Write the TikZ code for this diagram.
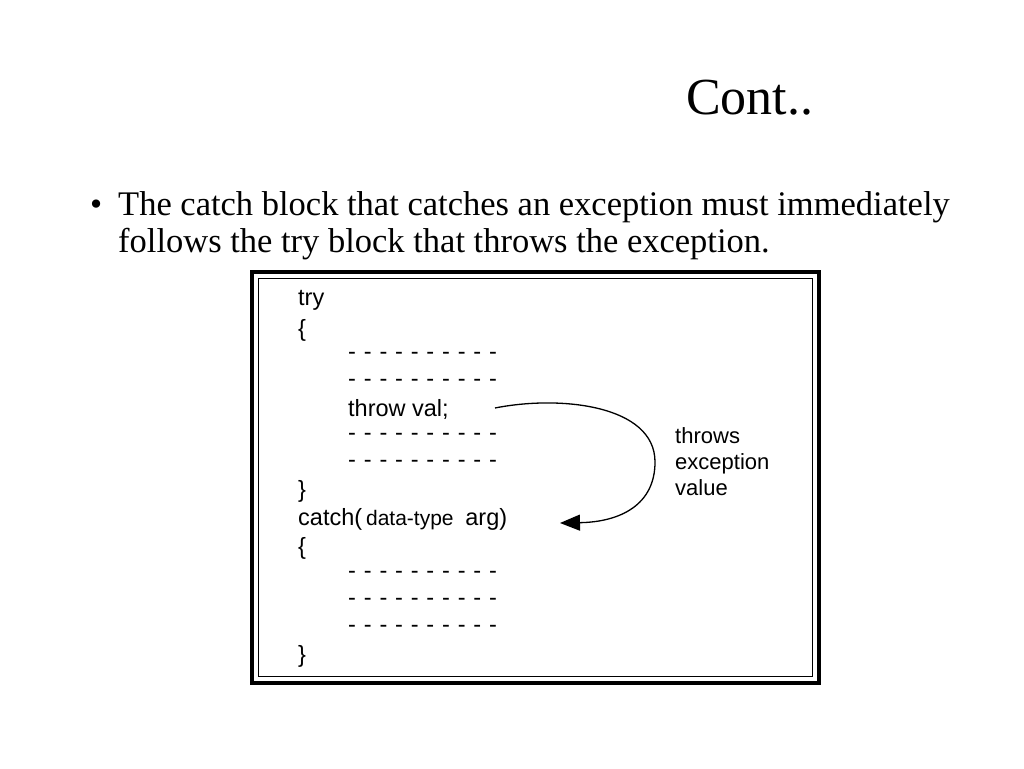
\documentclass[tikz,border=0pt]{standalone}
\usepackage{fontspec}
\setmainfont{Liberation Serif}
\newfontfamily\codefont{Liberation Sans}
\usetikzlibrary{arrows.meta}
\begin{document}
\begin{tikzpicture}[x=1pt,y=-1pt,
  code/.style={anchor=west,inner sep=0pt,font=\codefont\fontsize{23.5}{25}\selectfont}]
\useasboundingbox (0,0) rectangle (1024,768);
\node[anchor=base west,inner sep=0pt,font=\fontsize{52}{56}\selectfont] (title) at (686,114) {Cont..};
\node[anchor=base west,inner sep=0pt,font=\fontsize{34.5}{37}\selectfont,align=left] (bul) at (90,252)
 {\makebox[28pt][l]{•}The catch block that catches an exception must immediately\\\hspace*{28pt}follows the try block that throws the exception.};
\draw[line width=4pt] (252,272) rectangle (819,683);
\draw[line width=1.2pt] (258.5,278.5) rectangle (812.5,676.5);
\newcommand\dl{-\,\,-\,\,-\,\,-\,\,-\,\,-\,\,-\,\,-\,\,-\,\,-}
\node[code] (t1) at (298,300) {try};
\node[code] (t2) at (298,330) {\{};
\node[code] (d1) at (348,356) {\dl};
\node[code] (d2) at (348,383) {\dl};
\node[code] (thr) at (348,409) {throw val;};
\node[code] (d3) at (348,437) {\dl};
\node[code] (d4) at (348,464) {\dl};
\node[code] (t3) at (298,491) {\}};
\node[code] (ct) at (298,519) {catch(\,{\fontsize{21}{22}\selectfont data-type}\enspace arg)};
\node[code] (t4) at (298,548) {\{};
\node[code] (d5) at (348,575) {\dl};
\node[code] (d6) at (348,602) {\dl};
\node[code] (d7) at (348,629) {\dl};
\node[code] (t5) at (298,656) {\}};
\node[code,align=left,font=\codefont\fontsize{22}{26}\selectfont] (lab) at (675,462) {throws\\exception\\value};
\coordinate (s) at (495,408);
\coordinate (e) at (560,523);
\draw[line width=1.3pt,-{Triangle[length=20pt,width=16pt]}] (s) .. controls (560,395) and (655,405) .. (655,462)
  .. controls (655,505) and (620,522) .. (e);
\end{tikzpicture}
\end{document}
